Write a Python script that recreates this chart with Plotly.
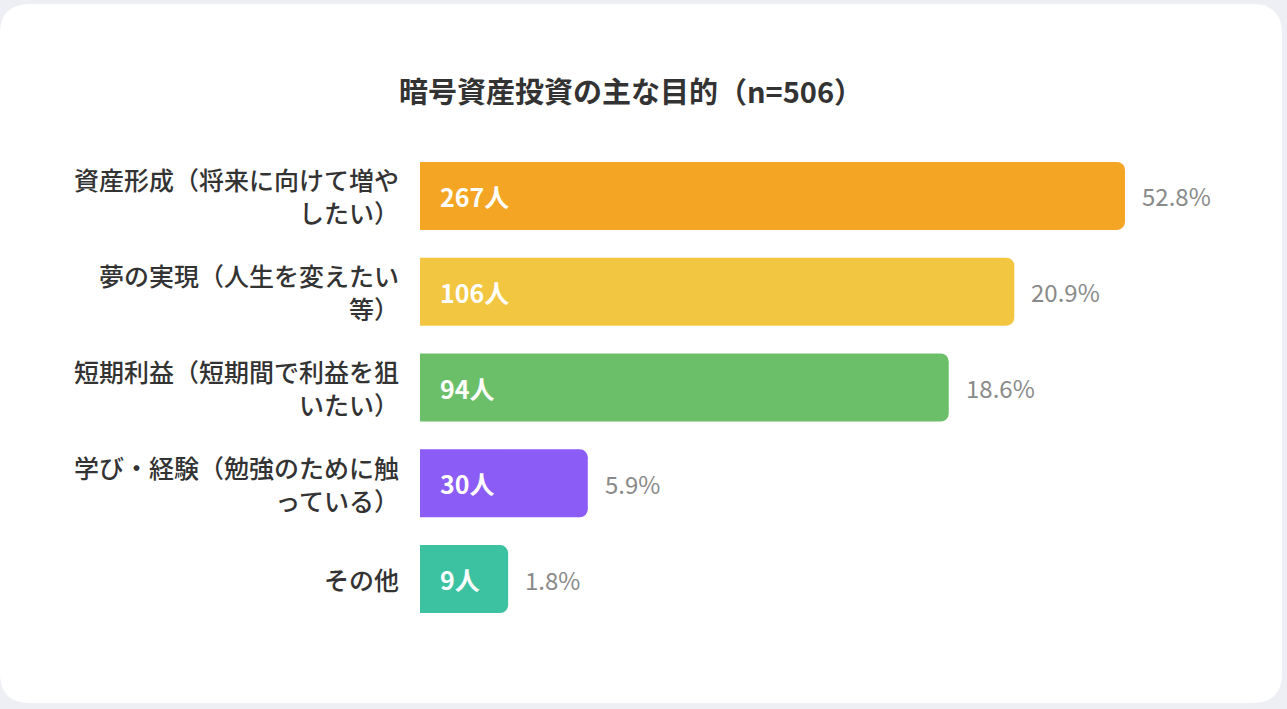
import plotly.graph_objects as go

# ---- data ----
title_text = "暗号資産投資の主な目的（n=506）"
categories = [
    "資産形成（将来に向けて増や<br>したい）",
    "夢の実現（人生を変えたい<br>等）",
    "短期利益（短期間で利益を狙<br>いたい）",
    "学び・経験（勉強のために触<br>っている）",
    "その他",
]
counts = [267, 106, 94, 30, 9]
percents = [52.8, 20.9, 18.6, 5.9, 1.8]
# bar length as drawn in the picture, relative to the top bar (=100)
bar_scale = [100, 84.3, 75.0, 23.8, 12.5]
colors = ["#F4A523", "#F3C641", "#6CBF69", "#8B5CF6", "#3CC2A0"]

W, H = 1287, 709
ML, MR, MT, MB = 420, 67, 148, 82
PW, PH = W - ML - MR, H - MT - MB
PX_PER_UNIT = 7.05
FONT = "Noto Sans CJK JP"

fig = go.Figure()
fig.add_trace(go.Bar(
    y=categories, x=bar_scale, orientation="h",
    marker=dict(color=colors, line=dict(width=0)),
    width=0.71, hoverinfo="skip", showlegend=False,
))

ann = []
for cat, c, p, v in zip(categories, counts, percents, bar_scale):
    ann.append(dict(x=0, y=cat, xref="x", yref="y", text=cat, showarrow=False,
                    xanchor="right", yanchor="middle", align="right", xshift=-19,
                    font=dict(family=FONT, size=25, color="#333333", weight=500)))
    ann.append(dict(x=0, y=cat, xref="x", yref="y", text=f"<b>{c}人</b>", showarrow=False,
                    xanchor="left", yanchor="middle", xshift=18,
                    font=dict(family=FONT, size=25, color="#FFFFFF")))
    ann.append(dict(x=v, y=cat, xref="x", yref="y", text=f"{p}%", showarrow=False,
                    xanchor="left", yanchor="middle", xshift=15,
                    font=dict(family=FONT, size=24, color="#8A8A8A")))


# rounded white card behind everything (pixel -> paper conversion)
def px(xp):
    return (xp - ML) / PW


def py(yp):
    return (H - MB - yp) / PH


x0, x1, y0, y1, r = 0, 1282, 4, 703, 30
path = (
    f"M {px(x0 + r)},{py(y0)} L {px(x1 - r)},{py(y0)} "
    f"Q {px(x1)},{py(y0)} {px(x1)},{py(y0 + r)} "
    f"L {px(x1)},{py(y1 - r)} Q {px(x1)},{py(y1)} {px(x1 - r)},{py(y1)} "
    f"L {px(x0 + r)},{py(y1)} Q {px(x0)},{py(y1)} {px(x0)},{py(y1 - r)} "
    f"L {px(x0)},{py(y0 + r)} Q {px(x0)},{py(y0)} {px(x0 + r)},{py(y0)} Z"
)

fig.update_layout(
    width=W, height=H,
    margin=dict(l=ML, r=MR, t=MT, b=MB),
    paper_bgcolor="#EEEFF4", plot_bgcolor="rgba(0,0,0,0)",
    barcornerradius=8,
    title=dict(text=f"<b>{title_text}</b>", x=631 / W, xanchor="center",
               y=1 - 93 / H, yanchor="middle", xref="container", yref="container",
               font=dict(family=FONT, size=29, color="#333333")),
    xaxis=dict(range=[0, PW / PX_PER_UNIT], visible=False, fixedrange=True),
    yaxis=dict(range=[4.5, -0.5], visible=False, fixedrange=True,
               categoryorder="array", categoryarray=categories),
    shapes=[dict(type="path", path=path, xref="paper", yref="paper",
                 fillcolor="#FFFFFF", line=dict(width=0), layer="below")],
    annotations=ann,
    font=dict(family=FONT),
)

fig.write_html("out.html", config={"displayModeBar": False})

# remove the browser's default body margin so the figure sits at the page origin
with open("out.html", encoding="utf-8") as f:
    html = f.read()
html = html.replace("<body>", '<body style="margin:0;background:#EEEFF4;overflow:hidden">', 1)
with open("out.html", "w", encoding="utf-8") as f:
    f.write(html)
